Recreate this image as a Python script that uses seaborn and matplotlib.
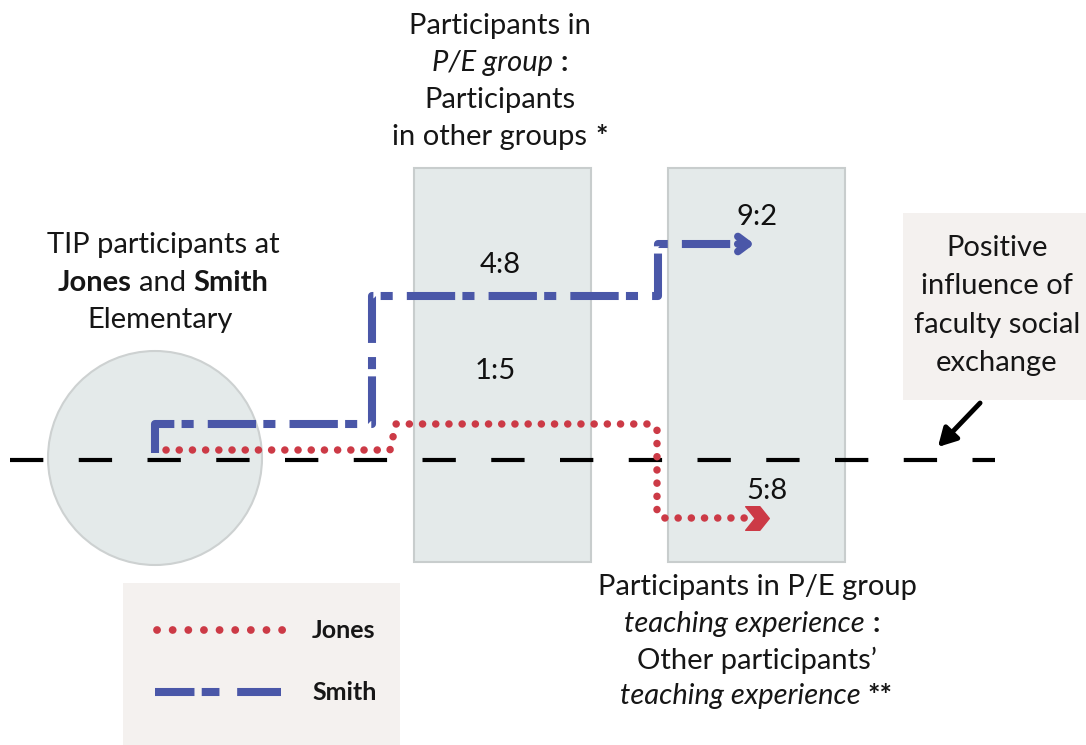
import numpy as np
import pandas as pd
import matplotlib
matplotlib.use("Agg")
import matplotlib.pyplot as plt
import matplotlib.patches as mpatches
from matplotlib.path import Path
import seaborn as sns

# step paths of the two schools (diagram coordinates, px)
smith_x = [155, 155, 372, 372, 658, 658, 742]
smith_y = [453, 424, 424, 296, 296, 244, 244]
jones_x = [166, 390, 396, 652, 657, 657, 662, 745]
jones_y = [450, 450, 424, 424, 430, 512, 518, 518]
ratio_labels = ["4:8", "9:2", "1:5", "5:8"]
ratio_pos = [(500, 265), (757, 217), (495, 371), (767, 491)]

BLUE = "#4a57a8"
RED = "#cc3a46"
BOX = "#e4eaea"
NOTE = "#f4f1ef"
FS = 21

sns.set_theme(style="white")
plt.rcParams["font.family"] = ["Lato", "DejaVu Sans"]

fig = plt.figure(figsize=(10.86, 7.45), dpi=100)
ax = fig.add_axes([0, 0, 1, 1])
ax.set_xlim(0, 1086)
ax.set_ylim(745, 0)
ax.axis("off")
renderer = fig.canvas.get_renderer()


def mixed_line(cx, y, parts, gap=6):
    # parts: list of (text, style dict); laid out left to right, centred on cx
    objs = [ax.text(0, y, t, ha="left", va="center", fontsize=FS, color="#161616", **kw)
            for t, kw in parts]
    widths = [o.get_window_extent(renderer).width for o in objs]
    total = sum(widths) + gap * (len(objs) - 1)
    x = cx - total / 2
    for o, w in zip(objs, widths):
        o.set_x(x)
        x += w + gap


# background shapes
ax.add_patch(mpatches.Circle((155, 458), 107, fc=BOX, ec="#cdd1d1", lw=1.5, zorder=1))
for x0 in (414, 668):
    ax.add_patch(mpatches.Rectangle((x0, 168), 177, 394, fc=BOX, ec="#c8cdcd", lw=1.5, zorder=1))
ax.add_patch(mpatches.Rectangle((903, 213), 190, 187, fc=NOTE, ec="none", zorder=1))
ax.add_patch(mpatches.Rectangle((123, 583), 277, 170, fc=NOTE, ec="none", zorder=1))

# baseline
ax.plot([10, 995], [460, 460], color="black", lw=3, ls=(0, (8, 8.5)), zorder=2)

paths = pd.concat([
    pd.DataFrame({"x": smith_x, "y": smith_y, "school": "Smith"}),
    pd.DataFrame({"x": jones_x, "y": jones_y, "school": "Jones"}),
])
sm = paths[paths.school == "Smith"]
jo = paths[paths.school == "Jones"]
sns.lineplot(data=sm, x="x", y="y", sort=False, estimator=None, ax=ax, color=BLUE,
             lw=5.8, zorder=4, legend=False)
ax.lines[-1].set_linestyle((0, (6, 0.9, 1.5, 1.75)))
ax.lines[-1].set_dash_capstyle("butt")
sns.lineplot(data=jo, x="x", y="y", sort=False, estimator=None, ax=ax, color=RED,
             lw=5.4, zorder=5, legend=False)
ax.lines[-1].set_linestyle((0, (0.01, 1.75)))
ax.lines[-1].set_dash_capstyle("round")

# arrowheads
ax.annotate("", xy=(757, 244), xytext=(735, 244),
            arrowprops=dict(arrowstyle="->,head_length=0.6,head_width=0.45", color=BLUE, lw=5.5),
            zorder=4)
chevron = Path([(-1, -1), (0.2, -1), (1, 0), (0.2, 1), (-1, 1), (-0.2, 0), (-1, -1)],
               [Path.MOVETO] + [Path.LINETO] * 5 + [Path.CLOSEPOLY])
ax.plot([757], [518], marker=chevron, ms=17, color=RED, mec=RED, zorder=5)

for lab, (px, py) in zip(ratio_labels, ratio_pos):
    ax.text(px, py, lab, ha="center", va="center", fontsize=FS, color="#111111", zorder=6)

# top caption
mixed_line(500, 26, [("Participants in", {})])
mixed_line(500, 63, [("P/E group", {"style": "italic"}), (":", {"weight": "bold"})], gap=8)
mixed_line(500, 100, [("Participants", {})])
mixed_line(500, 137, [("in other groups", {}), ("*", {"weight": "bold"})], gap=8)

# left caption
mixed_line(163, 245, [("TIP participants at", {})])
mixed_line(163, 283, [("Jones", {"weight": "bold"}), ("and", {}), ("Smith", {"weight": "bold"})], gap=7)
mixed_line(160, 320, [("Elementary", {})])

# right note
for i, line in enumerate(["Positive", "influence of", "faculty social", "exchange"]):
    mixed_line(997, 248 + 38.3 * i, [(line, {})])
ax.annotate("", xy=(936, 449), xytext=(982, 401),
            arrowprops=dict(arrowstyle="-|>,head_length=0.9,head_width=0.5", color="black", lw=3.5),
            zorder=3)

# bottom caption
mixed_line(757, 587, [("Participants in P/E group", {})])
mixed_line(752, 624, [("teaching experience", {"style": "italic"}), (":", {"weight": "bold"})], gap=8)
mixed_line(757, 660, [("Other participants\u2019", {})])
mixed_line(756, 696, [("teaching experience", {"style": "italic"}), ("**", {"weight": "bold"})], gap=7)

# legend
ax.plot([157, 285], [630, 630], color=RED, lw=5.6, ls=(0, (0.01, 2.0)), dash_capstyle="round", zorder=5)
ax.plot([155, 281], [692, 692], color=BLUE, lw=5.8, ls=(0, (4.9, 0.9, 2.2, 2.2, 6.9, 0.1)), zorder=5)
ax.text(312, 630, "Jones", ha="left", va="center", fontsize=18, weight="bold", color="#161616")
ax.text(312, 693, "Smith", ha="left", va="center", fontsize=18, weight="bold", color="#161616")

fig.savefig("out.png", dpi=100)
